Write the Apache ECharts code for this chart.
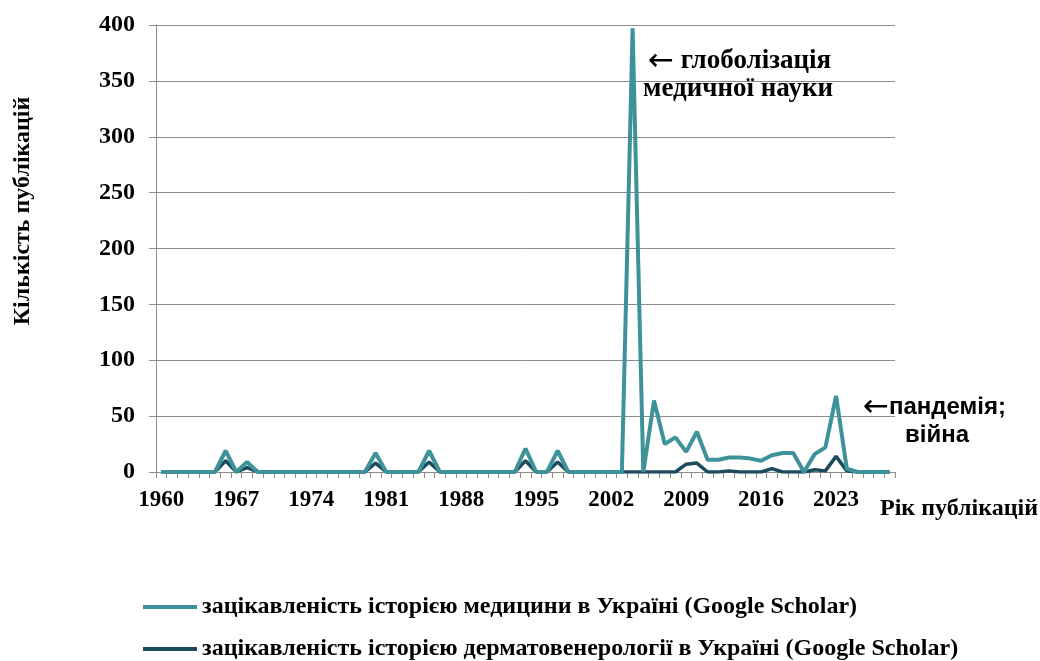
<!DOCTYPE html>
<html>
<head>
<meta charset="utf-8">
<script src="https://cdn.jsdelivr.net/npm/echarts@6/dist/echarts.min.js"></script>
<style>
  html, body { margin: 0; padding: 0; background: #fff; }
  #chart { width: 1040px; height: 661px; }
</style>
</head>
<body>
<div id="chart"></div>
<script>
  // роки публікацій 1960–2028
  var firstYear = 1960
  var lastYear = 2028
  var years = []
  for (var y = firstYear; y <= lastYear; y++) years.push(String(y))

  // роки, де є публікації (усі інші роки = 0)
  var medYears = [1966, 1968, 1980, 1985, 1994, 1997, 2004, 2006, 2007, 2008, 2009, 2010, 2011, 2012,
    2013, 2014, 2015, 2016, 2017, 2018, 2019, 2021, 2022, 2023, 2024]
  var medValues = [19, 9, 17, 19, 21, 19, 397, 64, 25, 31, 18, 36, 11, 11,
    13, 13, 12, 10, 15, 17, 17, 16, 22, 68, 3]

  var dermYears = [1966, 1968, 1980, 1985, 1994, 1997, 2009, 2010, 2013, 2017, 2021, 2022, 2023, 2024]
  var dermValues = [10, 4, 8, 9, 10, 9, 7, 8, 1, 3, 2, 1, 14, 1]

  var yTicks = [0, 50, 100, 150, 200, 250, 300, 350, 400]

  var medName = 'зацікавленість історією медицини в Україні (Google Scholar)'
  var dermName = 'зацікавленість історією дерматовенерології в Україні (Google Scholar)'

  function fillYears (ys, vals) {
    var out = years.map(function () { return 0 })
    ys.forEach(function (yr, i) { out[yr - firstYear] = vals[i] })
    return out
  }

  var serif = '"Liberation Serif", "Times New Roman", serif'
  var sans = '"Liberation Sans", Arial, sans-serif'
  var arrowFont = '"DejaVu Sans", sans-serif'

  //одна легенда на рядок
  function legendRow (name, top) {
    return {
      orient: 'vertical',
      left: 143,
      top: top,
      padding: 0,
      itemWidth: 54,
      itemHeight: 4,
      icon: 'rect',
      data: [name],
      textStyle: { fontFamily: serif, fontWeight: 'bold', fontSize: 24, color: '#000' }
    }
  }

  var myChart = echarts.init(document.getElementById('chart'))
  var option = {
    animation: false,
    backgroundColor: '#fff',
    grid: { left: 156, right: 145, top: 25, bottom: 189 },
    legend: [legendRow(medName, 595), legendRow(dermName, 637)],
    xAxis: {
      type: 'category',
      data: years,
      boundaryGap: true,
      axisLine: { lineStyle: { color: '#8c8c8c', width: 1 } },
      axisTick: { show: true, interval: 0, length: 6, lineStyle: { color: '#8c8c8c' } },
      axisLabel: {
        interval: 6, margin: 17, color: '#000',
        fontFamily: serif, fontWeight: 'bold', fontSize: 23
      },
      splitLine: { show: false }
    },
    yAxis: {
      type: 'value',
      min: yTicks[0],
      max: yTicks[yTicks.length - 1],
      interval: 50,
      axisLine: { show: true, lineStyle: { color: '#8c8c8c', width: 1 } },
      axisTick: { show: true, length: 7, lineStyle: { color: '#8c8c8c' } },
      axisLabel: { margin: 21, color: '#000', fontFamily: serif, fontWeight: 'bold', fontSize: 24 },
      splitLine: { lineStyle: { color: '#8c8c8c', width: 1 } }
    },
    series: [
      {
        name: dermName,
        type: 'line',
        data: fillYears(dermYears, dermValues),
        symbol: 'none',
        color: '#1c4b5e',
        lineStyle: { width: 3.5, color: '#1c4b5e' }
      },
      {
        name: medName,
        type: 'line',
        data: fillYears(medYears, medValues),
        symbol: 'none',
        color: '#3e939b',
        lineStyle: { width: 4, color: '#3e939b' }
      }
    ],
    graphic: [
      {
        type: 'text', x: 23, y: 211, rotation: Math.PI / 2,
        style: {
          text: 'Кількість публікацій', font: 'bold 24px ' + serif, fill: '#000',
          align: 'center', verticalAlign: 'middle'
        }
      },
      {
        type: 'text', left: 648, top: 46,
        style: {
          text: '{a|←} глоболізація', font: 'bold 27px ' + serif, fill: '#000',
          rich: { a: { font: '31px ' + arrowFont, fill: '#000' } }
        }
      },
      {
        type: 'text', left: 643, top: 76,
        style: { text: 'медичної науки', font: 'bold 27px ' + serif, fill: '#000' }
      },
      {
        type: 'text', left: 863, top: 392,
        style: {
          text: '{a|←}пандемія;', font: 'bold 24px ' + sans, fill: '#000',
          rich: { a: { font: '31px ' + arrowFont, fill: '#000' } }
        }
      },
      {
        type: 'text', left: 905, top: 423,
        style: { text: 'війна', font: 'bold 24px ' + sans, fill: '#000' }
      },
      {
        type: 'text', left: 880, top: 497,
        style: { text: 'Рік публікацій', font: 'bold 24px ' + serif, fill: '#000' }
      }
    ]
  }
  myChart.setOption(option, true)
</script>
</body>
</html>
